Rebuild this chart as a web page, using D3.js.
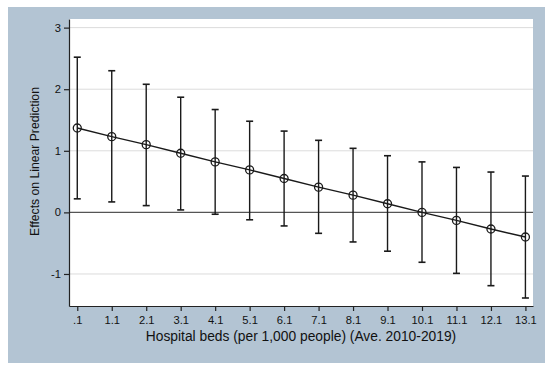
<!DOCTYPE html>
<html>
<head>
<meta charset="utf-8">
<script src="https://cdn.jsdelivr.net/npm/d3@7"></script>
<style>
  body { margin: 0; background: #fff; }
  svg { display: block; font-family: "Liberation Sans", Arial, sans-serif; }
</style>
</head>
<body>
<div id="chart"></div>
<script>
// valeurs
const beds = [0.1, 1.1, 2.1, 3.1, 4.1, 5.1, 6.1, 7.1, 8.1, 9.1, 10.1, 11.1, 12.1, 13.1];
const xLabels = [".1", "1.1", "2.1", "3.1", "4.1", "5.1", "6.1", "7.1", "8.1", "9.1", "10.1", "11.1", "12.1", "13.1"];
const effect = [1.37, 1.23, 1.10, 0.96, 0.82, 0.69, 0.55, 0.41, 0.28, 0.14, 0.00, -0.13, -0.27, -0.40];
const upper = [2.52, 2.30, 2.08, 1.87, 1.67, 1.48, 1.32, 1.17, 1.04, 0.92, 0.82, 0.73, 0.655, 0.59];
const lower = [0.22, 0.17, 0.11, 0.04, -0.03, -0.12, -0.22, -0.34, -0.48, -0.63, -0.81, -0.99, -1.19, -1.39];
const yTicks = [-1, 0, 1, 2, 3];

const width = 550, height = 372;
const plot = { left: 69, right: 533, top: 19, bottom: 306 };

const svg = d3.select("#chart")
    .append("svg")
    .attr("width", width)
    .attr("height", height);

// fond de la zone graphique
svg.append("rect")
    .attr("x", 8).attr("y", 7)
    .attr("width", 537).attr("height", 356)
    .attr("fill", "#b3c4d3");

svg.append("rect")
    .attr("x", plot.left).attr("y", plot.top)
    .attr("width", plot.right - plot.left).attr("height", plot.bottom - plot.top)
    .attr("fill", "#fff");

const x = d3.scaleLinear()
    .domain([-0.14, 13.32])
    .range([plot.left, plot.right]);

const y = d3.scaleLinear()
    .domain([-1.52, 3.14])
    .range([plot.bottom, plot.top]);

// grille
svg.append("g")
    .selectAll("line")
    .data(yTicks.filter(t => t !== 0))
    .join("line")
    .attr("x1", plot.left).attr("x2", plot.right)
    .attr("y1", d => y(d)).attr("y2", d => y(d))
    .attr("stroke", "#dcdcdc")
    .attr("stroke-width", 1);

// ligne à zéro
svg.append("line")
    .attr("x1", plot.left).attr("x2", plot.right)
    .attr("y1", y(0)).attr("y2", y(0))
    .attr("stroke", "#555")
    .attr("stroke-width", 1.3);

// axes
const yAxis = svg.append("g")
    .attr("transform", `translate(${plot.left},0)`)
    .call(d3.axisLeft(y).tickValues(yTicks).tickSize(5).tickSizeOuter(0).tickFormat(d => String(d)));

const xAxis = svg.append("g")
    .attr("transform", `translate(0,${plot.bottom})`)
    .call(d3.axisBottom(x).tickValues(beds).tickSize(5).tickSizeOuter(0).tickFormat((d, i) => xLabels[i]));

[yAxis, xAxis].forEach(ax => {
    ax.select(".domain").attr("stroke", "#222").attr("stroke-width", 1.2);
    ax.selectAll(".tick line").attr("stroke", "#222").attr("stroke-width", 1.2);
    ax.selectAll("text")
        .attr("fill", "#111")
        .style("font-size", "11.2px")
        .style("font-family", "Liberation Sans, Arial, sans-serif");
});
yAxis.selectAll("text").attr("x", -8);
xAxis.selectAll("text").attr("y", 10);

// barres d'erreur
const bars = svg.append("g")
    .selectAll("g")
    .data(beds)
    .join("g");

bars.append("line")
    .attr("x1", d => x(d)).attr("x2", d => x(d))
    .attr("y1", (d, i) => y(upper[i])).attr("y2", (d, i) => y(lower[i]))
    .attr("stroke", "#1a1a1a").attr("stroke-width", 1.4);

bars.selectAll(".cap")
    .data((d, i) => [[d, upper[i]], [d, lower[i]]])
    .join("line")
    .attr("class", "cap")
    .attr("x1", d => x(d[0]) - 3.5).attr("x2", d => x(d[0]) + 3.5)
    .attr("y1", d => y(d[1])).attr("y2", d => y(d[1]))
    .attr("stroke", "#1a1a1a").attr("stroke-width", 1.6);

// ligne des effets
svg.append("path")
    .datum(beds)
    .attr("d", d3.line().x(d => x(d)).y((d, i) => y(effect[i])))
    .attr("fill", "none")
    .attr("stroke", "#1a1a1a")
    .attr("stroke-width", 1.4);

svg.append("g")
    .selectAll("circle")
    .data(beds)
    .join("circle")
    .attr("cx", d => x(d))
    .attr("cy", (d, i) => y(effect[i]))
    .attr("r", 4)
    .attr("fill", "none")
    .attr("stroke", "#1a1a1a")
    .attr("stroke-width", 1.3);

// titres
svg.append("text")
    .attr("x", (plot.left + plot.right) / 2)
    .attr("y", 341)
    .attr("text-anchor", "middle")
    .style("font-size", "13.8px")
    .attr("fill", "#111")
    .text("Hospital beds (per 1,000 people) (Ave. 2010-2019)");

svg.append("text")
    .attr("transform", `translate(39,161.5) rotate(-90)`)
    .attr("text-anchor", "middle")
    .style("font-size", "12.2px")
    .attr("fill", "#111")
    .text("Effects on Linear Prediction");
</script>
</body>
</html>
